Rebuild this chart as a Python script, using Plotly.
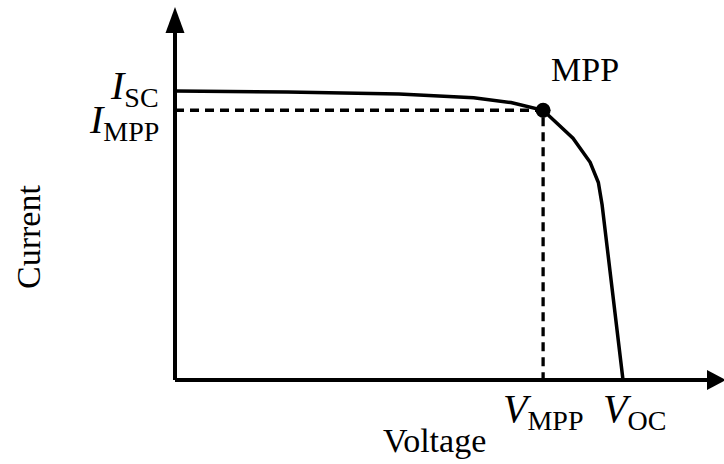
import plotly.graph_objects as go

# ---- data (I-V curve of a solar cell, arbitrary units) ----
voltage = [0.00, 0.15, 0.30, 0.40, 0.45, 0.493, 0.533, 0.556, 0.567, 0.572, 0.600]
current = [3.00, 2.99, 2.97, 2.93, 2.88, 2.80, 2.51, 2.26, 2.05, 1.82, 0.00]
v_mpp, i_mpp = 0.493, 2.80
v_oc, i_sc = 0.600, 3.00

W, H = 724, 464
# axis scaling (pixels per unit) and origin position
ox, oy = 175, 380
kx = (623 - ox) / v_oc
ky = (oy - 91) / i_sc
x_range = [-ox / kx, (W - ox) / kx]
y_range = [-(H - oy) / ky, oy / ky]

def dv(px):  # pixel distance -> voltage units
    return px / kx

def di(px):  # pixel distance -> current units
    return px / ky

FONT = "Liberation Serif"
fig = go.Figure()

# dashed guide lines to MPP
fig.add_trace(go.Scatter(x=[0, v_mpp, v_mpp], y=[i_mpp, i_mpp, 0], mode="lines",
                         line=dict(color="black", width=3.3, dash="9px,6px"),
                         hoverinfo="skip", showlegend=False))
# I-V curve
fig.add_trace(go.Scatter(x=voltage, y=current, mode="lines",
                         line=dict(color="black", width=3.5),
                         showlegend=False))
# MPP marker
fig.add_trace(go.Scatter(x=[v_mpp], y=[i_mpp], mode="markers",
                         marker=dict(color="black", size=15),
                         showlegend=False))

# axes with arrowheads
x_end = x_range[1] - dv(17)
y_end = y_range[1] - di(33)
fig.add_shape(type="line", x0=0, y0=0, x1=x_end, y1=0, line=dict(color="black", width=4))
fig.add_shape(type="line", x0=0, y0=0, x1=0, y1=y_end, line=dict(color="black", width=4))
# x arrow
fig.add_shape(type="path",
              path=f"M {x_end},{di(10)} L {x_end + dv(19)},0 L {x_end},{-di(10)} Z",
              fillcolor="black", line=dict(color="black", width=0))
# y arrow
fig.add_shape(type="path",
              path=f"M {-dv(9.5)},{y_end} L 0,{y_end + di(26)} L {dv(9.5)},{y_end} Z",
              fillcolor="black", line=dict(color="black", width=0))

def ann(text, x, y, xa="center", ya="middle", size=34, angle=0):
    fig.add_annotation(text=text, x=x, y=y, xanchor=xa, yanchor=ya,
                       showarrow=False, textangle=angle,
                       font=dict(family=FONT, size=size, color="black"))

ann("<i>I</i><sub>SC</sub>", -dv(14), i_sc + di(3), xa="right", size=40)
ann("<i>I</i><sub>MPP</sub>", -dv(14), i_mpp - di(12), xa="right", size=40)
ann("<i>V</i><sub>MPP</sub>", v_mpp, -di(4), ya="top", size=40)
ann("<i>V</i><sub>OC</sub>", v_oc + dv(11), -di(4), ya="top", size=40)
ann("MPP", v_mpp + dv(42), i_mpp + di(41))
ann("Voltage", dv(434 - ox), -di(440 - oy))
ann("Current", -dv(ox - 28), di(oy - 237), angle=-90)

fig.update_layout(
    width=W, height=H,
    margin=dict(l=0, r=0, t=0, b=0),
    plot_bgcolor="white", paper_bgcolor="white",
    xaxis=dict(range=x_range, visible=False, fixedrange=True),
    yaxis=dict(range=y_range, visible=False, fixedrange=True),
    showlegend=False,
)

fig.write_html("out.html")
